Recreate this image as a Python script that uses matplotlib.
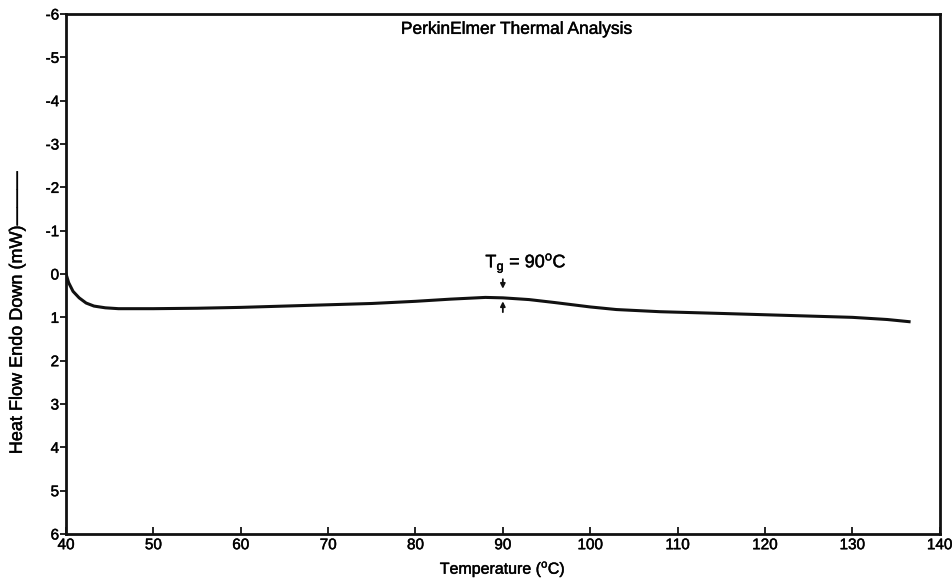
import matplotlib
matplotlib.use("Agg")
import matplotlib.pyplot as plt
import matplotlib.patheffects as pe

plt.rcParams['font.family'] = ['Liberation Sans', 'DejaVu Sans']

temperature = [40.0, 40.3, 40.8, 41.5, 42.3, 43.2, 44.5, 46, 50, 55, 60, 65, 70, 75, 80,
               84, 88, 90, 93, 96, 100, 103, 108, 115, 120, 125, 130, 134, 136.5]
heat_flow = [0.0, 0.2, 0.4, 0.55, 0.67, 0.74, 0.78, 0.8, 0.8, 0.79, 0.77, 0.74, 0.71, 0.68, 0.63,
             0.58, 0.54, 0.55, 0.59, 0.66, 0.76, 0.82, 0.87, 0.91, 0.94, 0.97, 1.0, 1.05, 1.1]
x_ticks = [40, 50, 60, 70, 80, 90, 100, 110, 120, 130, 140]
y_ticks = [-6, -5, -4, -3, -2, -1, 0, 1, 2, 3, 4, 5, 6]
tg_value = 90

thick = [pe.withStroke(linewidth=0.35, foreground='#111111')]

fig = plt.figure(figsize=(9.53, 5.84), dpi=100)
ax = fig.add_axes([0.0693, 0.0856, 0.9167, 0.8904])
ax.plot(temperature, heat_flow, color='#111111', lw=2.2)
ax.set_xlim(40, 140)
ax.set_ylim(6, -6)
ax.set_xticks(x_ticks)
ax.set_yticks(y_ticks)
ax.set_xticklabels([str(t) for t in x_ticks])
ax.set_yticklabels([str(t) for t in y_ticks])
for s in ax.spines.values():
    s.set_linewidth(2.0)
    s.set_color('#111111')
ax.tick_params(axis='x', direction='in', length=5, width=1.2, labelsize=11, pad=3)
ax.tick_params(axis='y', direction='out', length=4, width=1.2, labelsize=11, pad=1)
for lab in ax.get_xticklabels() + ax.get_yticklabels():
    lab.set_path_effects(thick)
ax.set_xlabel('Temperature ($^{\\mathregular{o}}$C)', fontsize=11.5, labelpad=5,
              path_effects=thick)
ax.set_ylabel('Heat Flow Endo Down (mW)\u2014\u2014\u2014', fontsize=13,
              path_effects=thick)
ax.yaxis.set_label_coords(-0.046, 0.425)
ax.text(0.516, 0.985, 'PerkinElmer Thermal Analysis', transform=ax.transAxes,
        ha='center', va='top', fontsize=12.5, path_effects=thick)
ax.text(88.0, -0.25, 'T$_{\\mathregular{g}}$ = 90$^{\\mathregular{o}}$C', ha='left', va='center',
        fontsize=13, path_effects=thick)
ax.annotate('', xy=(tg_value, 0.34), xytext=(tg_value, 0.12),
            arrowprops=dict(arrowstyle='-|>', color='#111111', lw=1.3, mutation_scale=7,
                            shrinkA=0, shrinkB=0))
ax.annotate('', xy=(tg_value, 0.63), xytext=(tg_value, 0.88),
            arrowprops=dict(arrowstyle='-|>', color='#111111', lw=1.3, mutation_scale=7,
                            shrinkA=0, shrinkB=0))
fig.savefig('out.png', dpi=100)
